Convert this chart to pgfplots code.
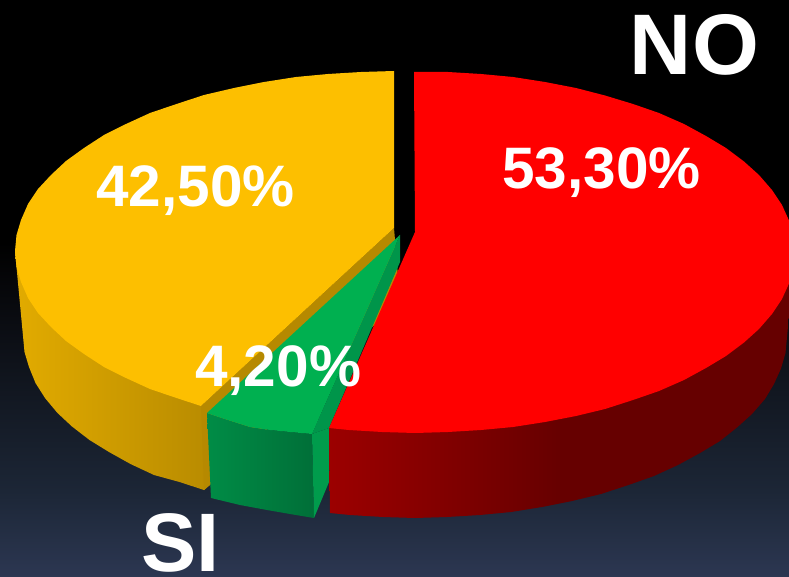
\documentclass[border=0pt]{standalone}
\usepackage{fontspec}
\setmainfont{Liberation Sans}
\usepackage{pgfplots}
\pgfplotsset{compat=1.18}
\definecolor{bgA}{HTML}{2C3752}
\definecolor{bgB}{HTML}{1C2636}
\definecolor{bgC}{HTML}{08090D}
\pgfdeclareverticalshading{bgshade}{100bp}{color(0bp)=(bgA); color(25bp)=(bgA); color(32.5bp)=(bgB); color(49bp)=(bgC); color(54bp)=(black); color(100bp)=(black)}
\definecolor{rsA}{HTML}{9C0000}
\definecolor{rsB}{HTML}{660000}
\pgfdeclarehorizontalshading{redside}{100bp}{color(0bp)=(rsA); color(25bp)=(rsA); color(50bp)=(rsB); color(100bp)=(rsB)}
\definecolor{osA}{HTML}{E2AB00}
\definecolor{osB}{HTML}{B88B00}
\pgfdeclarehorizontalshading{orangeside}{100bp}{color(0bp)=(osA); color(25bp)=(osA); color(75bp)=(osB); color(100bp)=(osB)}
\definecolor{gsA}{HTML}{008C46}
\definecolor{gsB}{HTML}{006F38}
\pgfdeclarehorizontalshading{greenside}{100bp}{color(0bp)=(gsA); color(25bp)=(gsA); color(75bp)=(gsB); color(100bp)=(gsB)}
\definecolor{otop}{HTML}{FDBF00}
\definecolor{gtop}{HTML}{00B050}
\definecolor{owall}{HTML}{B68900}
\definecolor{gwall}{HTML}{00954A}
\definecolor{gwallb}{HTML}{009C4C}
\tikzset{
  pct/.style={font=\fontsize{58.5}{58.5}\selectfont\bfseries, text=white, inner sep=0pt, anchor=base west},
  big/.style={font=\fontsize{86}{86}\selectfont\bfseries\addfontfeature{LetterSpace=1.5}, text=white, inner sep=0pt, anchor=base west},
  bigs/.style={font=\fontsize{83}{83}\selectfont\bfseries, text=white, inner sep=0pt, anchor=base west},
}
\begin{document}
\begin{tikzpicture}
\begin{axis}[
  scale only axis, width=789pt, height=577pt,
  xmin=0, xmax=789, ymin=0, ymax=577, y dir=reverse,
  hide axis, clip=true,
]
% background
\addplot[draw=none, shade, shading=bgshade] coordinates {(0,0) (789,0) (789,577) (0,577)} -- cycle;
% orange side
\addplot[draw=none, shade, shading=orangeside] coordinates {(15,251) (23,336) (24.5,352) (29,367) (35.5,383) (45,398) (57.5,413) (72,426.5) (89.5,440) (109,452) (130.5,464) (154,475) (179.5,482) (204,490) (211,484) (208,412) (201,406) (150,300)} -- cycle;
\addplot[draw=none, fill=owall] coordinates {(394,228) (201,406) (204,490) (211,484) (400,300)} -- cycle;
% orange top
\addplot[draw=none, fill=otop] coordinates {(394,71) (361,72) (328,74) (296,77) (264,82) (234,88) (204,95) (176.5,104) (150,113) (126,124) (104,135) (84,148) (66,161) (51,175) (38,189) (28,204) (21,220) (16.5,235) (15,251) (16.5,267) (21,282) (28,298) (38,313) (51,327) (66,341) (84,354) (104,367) (126,378) (150,389) (176.5,398) (201,406) (394,228)} -- cycle;
% green
\addplot[draw=none, shade, shading=greenside] coordinates {(207,413) (228,420) (250,427) (270,430) (290,432) (312,434) (314,518) (290,514) (267,510) (240,505) (211,498)} -- cycle;
\addplot[draw=none, fill=gwall] coordinates {(400,235) (312,434) (329,428) (400,262)} -- cycle;
\addplot[draw=none, fill=gwallb] coordinates {(312,434) (314,518) (329,482) (329,428)} -- cycle;
\addplot[draw=none, fill=gtop] coordinates {(400,235) (207,413) (228,420) (250,427) (270,430) (290,432) (312,434)} -- cycle;
% red side
\addplot[draw=none, shade, shading=redside] coordinates {(795,252) (787,337) (785.5,353) (781,368.5) (774,384) (765,399) (752,414) (737,427.5) (720,441) (700,453) (678,465) (654,476) (628.5,485) (601,494) (572,501) (542,507) (511,512) (480,515) (447,517) (415,518) (383,517) (350,515) (330,513) (329,428) (415,400)} -- cycle;
% red top
\addplot[draw=none, fill=red] coordinates {(414,72) (448,72) (481,74) (513,77) (545,82) (576,88) (605,95.5) (633,104) (659,113) (684,124) (706,136) (726,148) (744,161.5) (759,175) (772,190) (782,205) (789,220.5) (793.5,236) (795,252) (793.5,268) (789,283.5) (782,299) (772,314) (759,329) (744,342.5) (726,356) (706,368) (684,380) (659,391) (633,400) (605,409) (576,416) (545,422) (513,427) (481,430) (448,432) (415,433) (382,432) (349,430) (329,428) (415,232)} -- cycle;
% labels
\node[pct] at (axis cs:502,188.5) {53,30\%};
\node[pct] at (axis cs:96,207) {42,50\%};
\node[pct] at (axis cs:195,386) {4,20\%};
\node[big] at (axis cs:629,75) {NO};
\node[bigs] at (axis cs:141,571) {SI};
\end{axis}
\end{tikzpicture}
\end{document}
